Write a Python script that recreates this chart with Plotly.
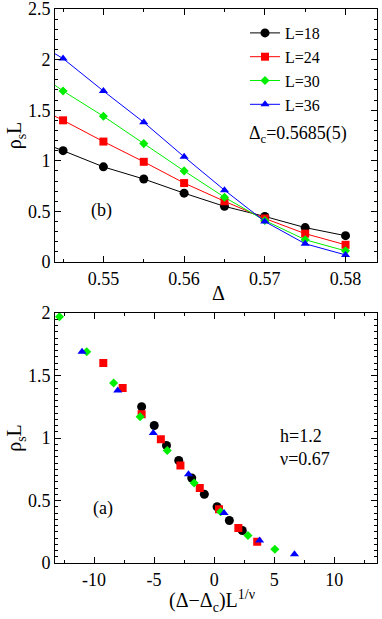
import plotly.graph_objects as go

# ---------------- data ----------------
delta = [0.540, 0.545, 0.550, 0.555, 0.560, 0.565, 0.570, 0.575, 0.580]
series_names = ["L=18", "L=24", "L=30", "L=36"]

rho_L18 = [1.25, 1.10, 0.94, 0.82, 0.68, 0.55, 0.45, 0.34, 0.26]
rho_L24 = [1.60, 1.40, 1.19, 0.99, 0.78, 0.60, 0.43, 0.28, 0.17]
rho_L30 = [1.97, 1.69, 1.44, 1.17, 0.90, 0.64, 0.41, 0.22, 0.11]
rho_L36 = [2.25, 2.01, 1.69, 1.38, 1.04, 0.71, 0.40, 0.18, 0.07]

# scaled x for the data collapse, (Delta-Delta_c) L^(1/nu)
xs_L18 = [-6.04, -4.99, -3.97, -2.95, -1.87, -0.82, 0.24, 1.26, 2.34]
xs_L24 = [-9.23, -7.62, -6.04, -4.44, -2.81, -1.20, 0.40, 2.01, 3.58]
xs_L30 = [-12.88, -10.61, -8.37, -6.16, -3.91, -1.67, 0.54, 2.81, 5.05]
xs_L36 = [-16.9, -13.96, -11.0, -8.03, -5.07, -2.14, 0.82, 3.78, 6.68]

top_xticks = [0.55, 0.56, 0.57, 0.58]
top_yticks = [0, 0.5, 1, 1.5, 2, 2.5]
top_yticktext = ["0", "0.5", "1", "1.5", "2", "2.5"]
bot_xticks = [-10, -5, 0, 5, 10]
bot_xticktext = ["-10", "-5", "0", "5", "10"]
bot_yticks = [0, 0.5, 1, 1.5, 2]
bot_yticktext = ["0", "0.5", "1", "1.5", "2"]

colors = ["#000000", "#ff0000", "#00ee00", "#0000ff"]
symbols = ["circle", "square", "diamond", "triangle-up"]
msizes = [9, 8, 7, 8]

FONT = "Liberation Serif, Times New Roman, serif"

W, H = 382, 619
ML, MR, MT, MB = 55, 5, 9, 56
PW, PH = W - ML - MR, H - MT - MB


def px_to_paper_x(px):
    return (px - ML) / PW


def px_to_paper_y(py):
    return (H - MB - py) / PH


fig = go.Figure()

rhos = [rho_L18, rho_L24, rho_L30, rho_L36]
xss = [xs_L18, xs_L24, xs_L30, xs_L36]

for name, r, c, s, ms in zip(series_names, rhos, colors, symbols, msizes):
    fig.add_trace(go.Scatter(
        x=delta, y=r, name=name, mode="lines+markers",
        line=dict(color=c, width=1),
        marker=dict(color=c, symbol=s, size=ms),
        xaxis="x", yaxis="y", showlegend=True))

for name, xv, r, c, s, ms in zip(series_names, xss, rhos, colors, symbols, msizes):
    fig.add_trace(go.Scatter(
        x=xv, y=r, name=name, mode="markers",
        marker=dict(color=c, symbol=s, size=ms),
        xaxis="x2", yaxis="y2", showlegend=False))

axis_common = dict(
    showline=True, linecolor="black", linewidth=1, mirror="allticks",
    ticks="inside", ticklen=6, tickcolor="black", tickwidth=1,
    showgrid=False, zeroline=False, automargin=False,
    ticklabeloverflow="allow",
    tickfont=dict(family=FONT, size=18, color="black"),
)

fig.update_layout(
    width=W, height=H,
    margin=dict(l=ML, r=MR, t=MT, b=MB),
    paper_bgcolor="white", plot_bgcolor="white",
    font=dict(family=FONT, color="black"),
    xaxis=dict(axis_common, domain=[0, 1], anchor="y", range=[0.544, 0.5839],
               tickvals=top_xticks, ticktext=[str(v) for v in top_xticks],
               minor=dict(dtick=0.005, tick0=0.545, ticks="inside", ticklen=3, tickcolor="black")),
    yaxis=dict(axis_common, domain=[px_to_paper_y(262), 1], anchor="x", range=[0, 2.5],
               tickvals=top_yticks, ticktext=top_yticktext,
               minor=dict(dtick=0.1, ticks="inside", ticklen=3, tickcolor="black"),
               title=dict(text="ρ<sub>s</sub>L", font=dict(family=FONT, size=20), standoff=0)),
    xaxis2=dict(axis_common, domain=[0, 1], anchor="y2", range=[-13.25, 13.55],
                tickvals=bot_xticks, ticktext=bot_xticktext,
                minor=dict(dtick=2.5, tick0=0, ticks="inside", ticklen=3, tickcolor="black")),
    yaxis2=dict(axis_common, domain=[0, px_to_paper_y(313)], anchor="x2", range=[0, 2],
                tickvals=bot_yticks, ticktext=bot_yticktext,
                minor=dict(dtick=0.05, ticks="inside", ticklen=3, tickcolor="black"),
                title=dict(text="ρ<sub>s</sub>L", font=dict(family=FONT, size=20), standoff=0)),
    legend=dict(x=px_to_paper_x(245), y=px_to_paper_y(16), xanchor="left", yanchor="top",
                bgcolor="rgba(0,0,0,0)", borderwidth=0,
                font=dict(family=FONT, size=16, color="black"),
                tracegroupgap=0, itemwidth=30),
    showlegend=True,
)

# axis titles for x (placed as annotations for exact vertical position)
fig.add_annotation(text="Δ", xref="paper", yref="paper",
                   x=px_to_paper_x(218), y=px_to_paper_y(293), xanchor="center", yanchor="middle",
                   showarrow=False, font=dict(family=FONT, size=20))
fig.add_annotation(text="(Δ−Δ<sub>c</sub>)L<sup>1/ν</sup>", xref="paper", yref="paper",
                   x=px_to_paper_x(212), y=px_to_paper_y(601), xanchor="center", yanchor="middle",
                   showarrow=False, font=dict(family=FONT, size=20))

fig.add_annotation(text="Δ<sub>c</sub>=0.5685(5)", xref="paper", yref="paper",
                   x=px_to_paper_x(247), y=px_to_paper_y(134), xanchor="left", yanchor="middle",
                   showarrow=False, font=dict(family=FONT, size=18))
fig.add_annotation(text="(b)", xref="paper", yref="paper",
                   x=px_to_paper_x(89), y=px_to_paper_y(211), xanchor="left", yanchor="middle",
                   showarrow=False, font=dict(family=FONT, size=18))
fig.add_annotation(text="(a)", xref="paper", yref="paper",
                   x=px_to_paper_x(91), y=px_to_paper_y(509), xanchor="left", yanchor="middle",
                   showarrow=False, font=dict(family=FONT, size=18))
fig.add_annotation(text="h=1.2<br>ν=0.67", xref="paper", yref="paper",
                   x=px_to_paper_x(278), y=px_to_paper_y(447), xanchor="left", yanchor="middle",
                   align="left", showarrow=False, font=dict(family=FONT, size=18))

fig.write_html("out.html", config={"displayModeBar": False},
               post_script="document.body.style.margin='0';")
